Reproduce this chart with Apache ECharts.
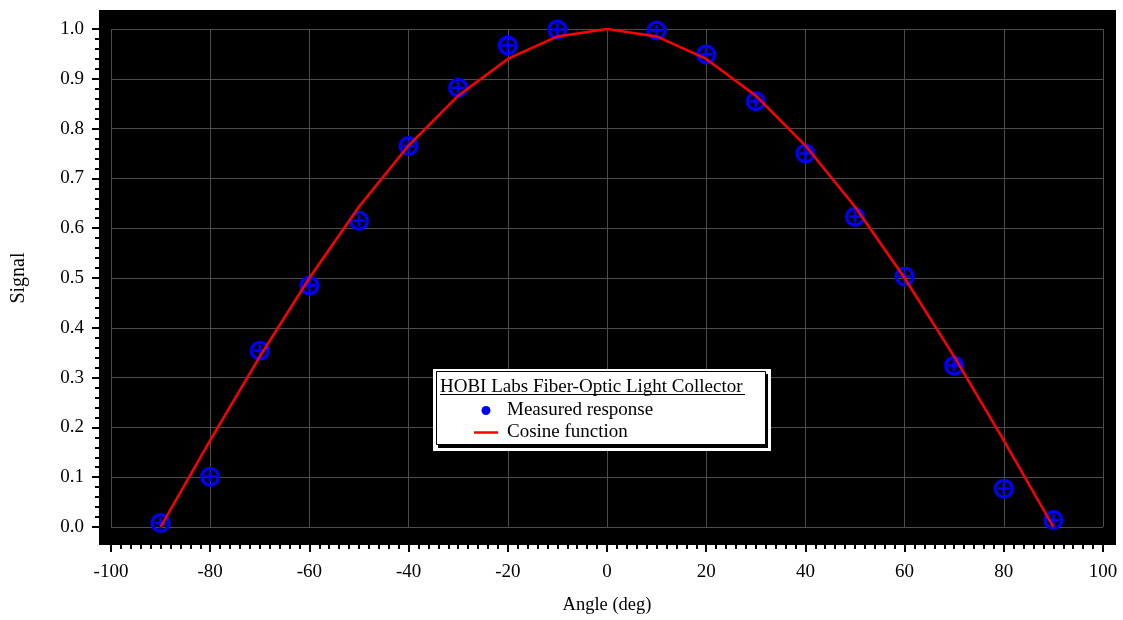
<!DOCTYPE html>
<html lang="en">
<head>
    <meta charset="UTF-8">
    <title>HOBI Labs Fiber-Optic Light Collector</title>
    <script src="https://cdn.jsdelivr.net/npm/echarts@6/dist/echarts.min.js"></script>
    <style>
        html, body { margin: 0; padding: 0; background: #fff; }
    </style>
</head>
<body>
    <div id="main" style="width: 1123px;height: 620px"></div>
    <script>
        // angles of the measurements (deg)
        var angles = [-90, -80, -70, -60, -50, -40, -30, -20, -10, 0, 10, 20, 30, 40, 50, 60, 70, 80, 90];
        var measured = [0.008, 0.101, 0.354, 0.485, 0.615, 0.765, 0.882, 0.967, 0.999, 1.003,
            0.997, 0.949, 0.855, 0.750, 0.623, 0.503, 0.324, 0.077, 0.014];
        // cosine reference curve at the same angles
        var cosine = [0.000, 0.174, 0.342, 0.500, 0.643, 0.766, 0.866, 0.940, 0.985, 1.000,
            0.985, 0.940, 0.866, 0.766, 0.643, 0.500, 0.342, 0.174, 0.000];
        var legendTitle = 'HOBI Labs Fiber-Optic Light Collector';
        var seriesNames = ['Measured response', 'Cosine function'];

        var font = 'Liberation Serif';
        // ring with a plus inside
        var ringPlus = 'path://M0.5,10 A9.5,9.5 0 1,1 19.5,10 A9.5,9.5 0 1,1 0.5,10 Z ' +
            'M3.6,10 A6.4,6.4 0 1,0 16.4,10 A6.4,6.4 0 1,0 3.6,10 Z ' +
            'M8.7,4.6 H11.3 V8.7 H15.4 V11.3 H11.3 V15.4 H8.7 V11.3 H4.6 V8.7 H8.7 Z';

        function pairs(xs, ys) {
            return xs.map(function (x, i) { return [x, ys[i]]; });
        }

        var tickStyle = { color: '#000', width: 2 };

        var myChart = echarts.init(document.getElementById('main'));
        myChart.setOption({
            animation: false,
            backgroundColor: '#fff',
            textStyle: { fontFamily: font },
            grid: { left: 111, right: 20, top: 29, bottom: 93 },
            xAxis: {
                type: 'value',
                min: -100,
                max: 100,
                interval: 20,
                offset: 18,
                name: 'Angle (deg)',
                nameLocation: 'middle',
                nameGap: 51,
                nameTextStyle: { fontFamily: font, fontSize: 18.5, color: '#000' },
                axisLine: { show: false, onZero: false },
                axisTick: { show: true, inside: false, length: 7, lineStyle: tickStyle },
                minorTick: { show: true, splitNumber: 10, length: 4, lineStyle: tickStyle },
                axisLabel: { margin: 18, fontFamily: font, fontSize: 19, color: '#000' },
                splitLine: { show: true, lineStyle: { color: '#4d4d4d', width: 1 } }
            },
            yAxis: {
                type: 'value',
                min: 0,
                max: 1,
                interval: 0.1,
                offset: 12,
                name: 'Signal',
                nameLocation: 'middle',
                nameGap: 70,
                nameTextStyle: { fontFamily: font, fontSize: 20, color: '#000' },
                axisLine: { show: false, onZero: false },
                axisTick: { show: true, inside: false, length: 7, lineStyle: tickStyle },
                minorTick: { show: true, splitNumber: 5, length: 4, lineStyle: tickStyle },
                axisLabel: {
                    margin: 15, fontFamily: font, fontSize: 19, color: '#000',
                    formatter: function (v) { return v.toFixed(1); }
                },
                splitLine: { show: true, lineStyle: { color: '#4d4d4d', width: 1 } }
            },
            legend: {
                orient: 'vertical',
                left: 474,
                top: 401,
                padding: 0,
                itemGap: 3,
                itemWidth: 24,
                itemHeight: 9,
                z: 20,
                textStyle: { fontFamily: font, fontSize: 19, color: '#000', padding: [0, 0, 0, 4] },
                data: [
                    { name: seriesNames[0], icon: 'circle', itemStyle: { color: '#0000ff' } },
                    { name: seriesNames[1], icon: 'path://M0,0 L24,0 L24,2.5 L0,2.5 Z', itemStyle: { color: '#ff0000' } }
                ]
            },
            graphic: [
                // black plot panel
                { type: 'rect', z: -10, silent: true, shape: { x: 99, y: 10, width: 1017, height: 535 }, style: { fill: '#000' } },
                // legend box
                { type: 'rect', z: 10, silent: true, shape: { x: 433, y: 369, width: 338, height: 82 }, style: { fill: '#fff' } },
                { type: 'rect', z: 10, silent: true, shape: { x: 438, y: 374, width: 330, height: 74 }, style: { fill: '#000' } },
                { type: 'rect', z: 10, silent: true, shape: { x: 436.5, y: 371.5, width: 329, height: 73 }, style: { fill: '#fff', stroke: '#000', lineWidth: 1 } },
                {
                    type: 'text', z: 11, silent: true, x: 440, y: 397,
                    style: { text: legendTitle, font: '19px "Liberation Serif"', fill: '#000', verticalAlign: 'bottom' }
                },
                { type: 'line', z: 11, silent: true, shape: { x1: 440, y1: 394.5, x2: 745, y2: 394.5 }, style: { stroke: '#000', lineWidth: 1 } }
            ],
            series: [
                {
                    name: seriesNames[0],
                    type: 'scatter',
                    symbol: ringPlus,
                    symbolSize: 20,
                    itemStyle: { color: '#0000ff', opacity: 1 },
                    data: pairs(angles, measured)
                },
                {
                    name: seriesNames[1],
                    type: 'line',
                    symbol: 'none',
                    lineStyle: { color: '#ff0000', width: 2.5 },
                    itemStyle: { color: '#ff0000' },
                    data: pairs(angles, cosine)
                }
            ]
        });
    </script>
</body>
</html>
